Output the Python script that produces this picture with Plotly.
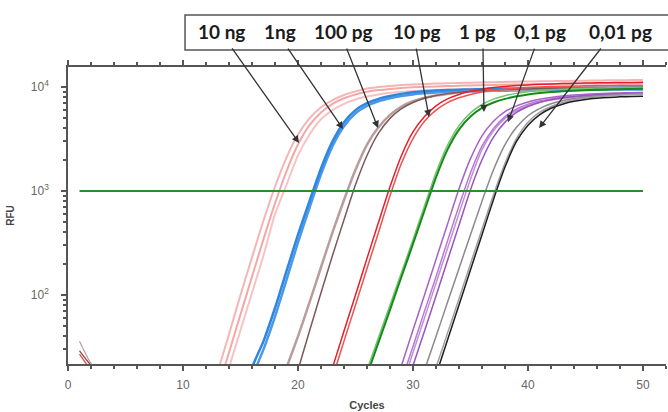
import math
import plotly.graph_objects as go

# ---------------- data ----------------
labels = ["10 ng", "1ng", "100 pg", "10 pg", "1 pg", "0,1 pg", "0,01 pg"]

pink_1_start = 12
pink_1 = [8, 18, 42, 100, 230, 520, 1100, 2100, 3500, 5000, 6400, 7500, 8400, 9100, 9700, 10000, 10250,
          10450, 10600, 10700, 10800, 10880, 10950, 11020, 11090, 11150, 11210, 11260, 11310, 11360,
          11400, 11450, 11490, 11530, 11570, 11610, 11640, 11670, 11700]
pink_2_start = 12
pink_2 = [5, 12, 28, 65, 150, 345, 760, 1550, 2800, 4300, 5700, 6900, 7800, 8500, 9000, 9350, 9600,
          9800, 9950, 10050, 10150, 10230, 10300, 10370, 10430, 10490, 10540, 10590, 10630, 10670,
          10710, 10750, 10780, 10810, 10840, 10870, 10900, 10920, 10950]
pink_3_start = 12
pink_3 = [4, 9, 20, 46, 105, 240, 600, 1150, 2200, 3500, 4900, 6000, 6900, 7600, 8100, 8500, 8800,
          9000, 9180, 9300, 9400, 9480, 9550, 9620, 9680, 9740, 9790, 9840, 9880, 9920, 9960, 10000,
          10030, 10060, 10090, 10120, 10150, 10170, 10200]

blue_1_start = 15
blue_1 = [8, 20, 36, 75, 170, 380, 800, 1650, 3000, 4600, 6000, 7000, 7700, 8200, 8600, 8900, 9100,
          9250, 9350, 9430, 9500, 9550, 9600, 9640, 9680, 9710, 9740, 9770, 9790, 9810, 9830, 9850,
          9870, 9880, 9890, 9900]
blue_2_start = 15
blue_2 = [6, 16, 30, 62, 140, 320, 690, 1450, 2700, 4200, 5600, 6600, 7300, 7800, 8200, 8500, 8700,
          8850, 8950, 9030, 9100, 9150, 9200, 9240, 9280, 9310, 9340, 9370, 9390, 9410, 9430, 9450,
          9470, 9480, 9490, 9500]

brown_1_start = 18
brown_1 = [10, 20, 40, 85, 185, 400, 820, 1600, 2800, 4100, 5400, 6500, 7300, 7900, 8300, 8600, 8850,
           9050, 9200, 9300, 9380, 9450, 9510, 9560, 9600, 9640, 9670, 9700, 9730, 9750, 9770, 9790, 9800]
brown_2_start = 19
brown_2 = [8, 19, 45, 105, 240, 530, 1150, 2200, 3600, 5000, 6200, 7100, 7800, 8300, 8650, 8900, 9100,
           9250, 9370, 9460, 9540, 9600, 9650, 9700, 9740, 9770, 9800, 9830, 9850, 9870, 9890, 9900]

red_1_start = 22
red_1 = [9, 20, 45, 100, 225, 500, 1100, 2200, 3700, 5200, 6600, 7700, 8500, 9100, 9550, 9900, 10150,
         10350, 10500, 10620, 10720, 10800, 10870, 10930, 10980, 11020, 11060, 11090, 11120]
red_2_start = 22
red_2 = [7, 16, 36, 80, 180, 400, 900, 1850, 3200, 4700, 6000, 7100, 7900, 8500, 8950, 9300, 9550,
         9750, 9900, 10020, 10110, 10180, 10240, 10290, 10330, 10360, 10390, 10410, 10430]

green_1_start = 25
green_1 = [8, 17, 35, 72, 150, 310, 650, 1350, 2500, 3900, 5200, 6300, 7100, 7700, 8150, 8500, 8750,
           8950, 9100, 9230, 9330, 9410, 9480, 9540, 9590, 9630]
green_2_start = 25
green_2 = [9, 19, 39, 80, 165, 340, 720, 1500, 2750, 4250, 5650, 6800, 7650, 8250, 8700, 9000, 9250,
           9420, 9550, 9650, 9730, 9790, 9840, 9880, 9910, 9930]

purple_1_start = 28
purple_1 = [10, 21, 46, 100, 220, 480, 1050, 2050, 3400, 4700, 5800, 6600, 7200, 7650, 7950, 8200,
            8380, 8520, 8630, 8720, 8790, 8840, 8880]
purple_2_start = 28
purple_2 = [7, 15, 32, 70, 150, 330, 720, 1500, 2700, 4000, 5200, 6150, 6850, 7350, 7700, 7970, 8170,
            8320, 8440, 8530, 8600, 8650, 8690]
purple_3_start = 29
purple_3 = [10, 21, 45, 98, 215, 470, 1030, 2000, 3300, 4600, 5700, 6500, 7100, 7550, 7880, 8120,
            8300, 8440, 8550, 8630, 8690, 8740]
purple_4_start = 28
purple_4 = [6, 13, 28, 60, 130, 280, 610, 1300, 2500, 3800, 5000, 5950, 6650, 7150, 7500, 7780, 7990,
            8150, 8280, 8380, 8460, 8520, 8570]

gray_1_start = 30
gray_1 = [9, 19, 40, 85, 180, 380, 800, 1600, 2800, 4100, 5300, 6200, 6900, 7400, 7750, 8000, 8200,
          8350, 8450, 8530, 8600]
gray_2_start = 31
gray_2 = [9, 20, 43, 92, 200, 430, 920, 1850, 3200, 4600, 5700, 6500, 7100, 7550, 7850, 8080, 8250,
          8380, 8470, 8540]
black_1_start = 31
black_1 = [8, 17, 37, 80, 175, 380, 830, 1700, 3000, 4300, 5400, 6250, 6850, 7300, 7600, 7800, 7950,
           8050, 8120, 8170]

early_start = 1
early_a = [36, 22, 17]
early_b = [29, 21, 16]
early_c = [27, 19, 15]

threshold_cycles = [1, 50]
threshold_rfu = [1000, 1000]

# ---------------- styles ----------------
curves = [
    (pink_3_start, pink_3, "#f7c2c2", 2.0),
    (pink_2_start, pink_2, "#f3a8a8", 2.0),
    (pink_1_start, pink_1, "#f5b5b5", 2.0),
    (blue_2_start, blue_2, "#4a98e8", 2.5),
    (blue_1_start, blue_1, "#2f86e0", 2.5),
    (brown_1_start, brown_1, "#b99d9d", 2.5),
    (brown_2_start, brown_2, "#7d5858", 1.5),
    (red_2_start, red_2, "#f25050", 1.5),
    (red_1_start, red_1, "#e3202a", 1.5),
    (green_2_start, green_2, "#72c472", 1.5),
    (green_1_start, green_1, "#168a16", 2.0),
    (purple_4_start, purple_4, "#c28fd8", 1.5),
    (purple_1_start, purple_1, "#a860c8", 1.5),
    (purple_2_start, purple_2, "#b77ad2", 1.5),
    (purple_3_start, purple_3, "#9a52bf", 1.5),
    (gray_1_start, gray_1, "#8a8a8a", 1.5),
    (gray_2_start, gray_2, "#a0a0a0", 1.5),
    (black_1_start, black_1, "#1e1e1e", 1.5),
    (early_start, early_a, "#b99d9d", 1.2),
    (early_start, early_b, "#8a3a3a", 1.2),
    (early_start, early_c, "#e04040", 1.2),
]

fig = go.Figure()
for start, vals, color, width in curves:
    fig.add_trace(go.Scatter(
        x=list(range(start, start + len(vals))), y=vals, mode="lines",
        line=dict(color=color, width=width, shape="spline", smoothing=0.6),
        showlegend=False, hoverinfo="skip"))

fig.add_trace(go.Scatter(x=threshold_cycles, y=threshold_rfu, mode="lines",
                         line=dict(color="#2e8b2e", width=2), showlegend=False, hoverinfo="skip"))

axis_col = "#555555"
tick_font = dict(family="Liberation Sans, Arial, sans-serif", size=12, color="#666666")

fig.update_xaxes(range=[0, 52], tickvals=[0, 10, 20, 30, 40, 50], ticks="outside", ticklen=5,
                 tickcolor=axis_col, tickwidth=1.5, showline=True, linecolor=axis_col, linewidth=1.5,
                 mirror="ticks", showgrid=False, zeroline=False, tickfont=tick_font,
                 ticklabelstandoff=4,
                 minor=dict(dtick=2, ticks="outside", ticklen=3, tickcolor=axis_col, tickwidth=1.5),
                 title=dict(text="<b>Cycles</b>", font=dict(family="Liberation Sans, Arial", size=11,
                                                            color="#444"), standoff=10))

minor_y = [v * m for m in (10, 100, 1000) for v in range(2, 10)]
fig.update_yaxes(type="log", range=[math.log10(21.7), math.log10(15600)],
                 tickvals=[100, 1000, 10000], ticktext=["10<sup>2</sup>", "10<sup>3</sup>", "10<sup>4</sup>"],
                 ticks="outside", ticklen=5, tickcolor=axis_col, tickwidth=1.5,
                 showline=True, linecolor=axis_col, linewidth=1.5, mirror=False,
                 showgrid=False, zeroline=False, tickfont=tick_font, ticklabelstandoff=10,
                 minor=dict(tickmode="array", tickvals=minor_y, ticks="outside", ticklen=3,
                            tickcolor=axis_col, tickwidth=1.5),
                 title=dict(text="<b>RFU</b>", font=dict(family="Liberation Sans, Arial", size=10,
                                                         color="#444"), standoff=14))

# label box
fig.add_shape(type="rect", xref="paper", yref="paper", x0=0.1957, x1=1.2, y0=1.0572, y1=1.1751,
              line=dict(color="#555555", width=1.5), fillcolor="white", layer="above")

label_x = [0.2559, 0.3545, 0.4615, 0.5836, 0.6839, 0.7893, 0.9231]
for lx, txt in zip(label_x, labels):
    fig.add_annotation(xref="paper", yref="paper", x=lx, y=1.118, xanchor="center", yanchor="middle",
                       text="<b>" + txt + "</b>", showarrow=False,
                       font=dict(family="Lato, Open Sans, sans-serif", size=19, color="#1a1a1a"))

# arrows: head (cycle, RFU) and tail offset in px
arrow_heads = [(20.09, 2900), (23.91, 3950), (26.96, 4040), (31.39, 5150),
               (36.17, 5750), (38.26, 4600), (40.96, 4040)]
arrow_tails = [(-68, -96), (-56, -82), (-32, -81), (-13, -70), (-1, -65), (27, -75), (63, -81)]
for (hx, hy), (tx, ty) in zip(arrow_heads, arrow_tails):
    fig.add_annotation(x=hx, y=math.log10(hy), xref="x", yref="y", ax=tx, ay=ty, text="",
                       showarrow=True, arrowhead=2, arrowsize=1.1, arrowwidth=1.3,
                       arrowcolor="#333333")

fig.update_layout(width=668, height=412, margin=dict(l=68, r=2, t=67, b=48),
                  paper_bgcolor="white", plot_bgcolor="white")

fig.write_html("out.html", config={"displayModeBar": False},
               post_script="document.body.style.margin='0';")
